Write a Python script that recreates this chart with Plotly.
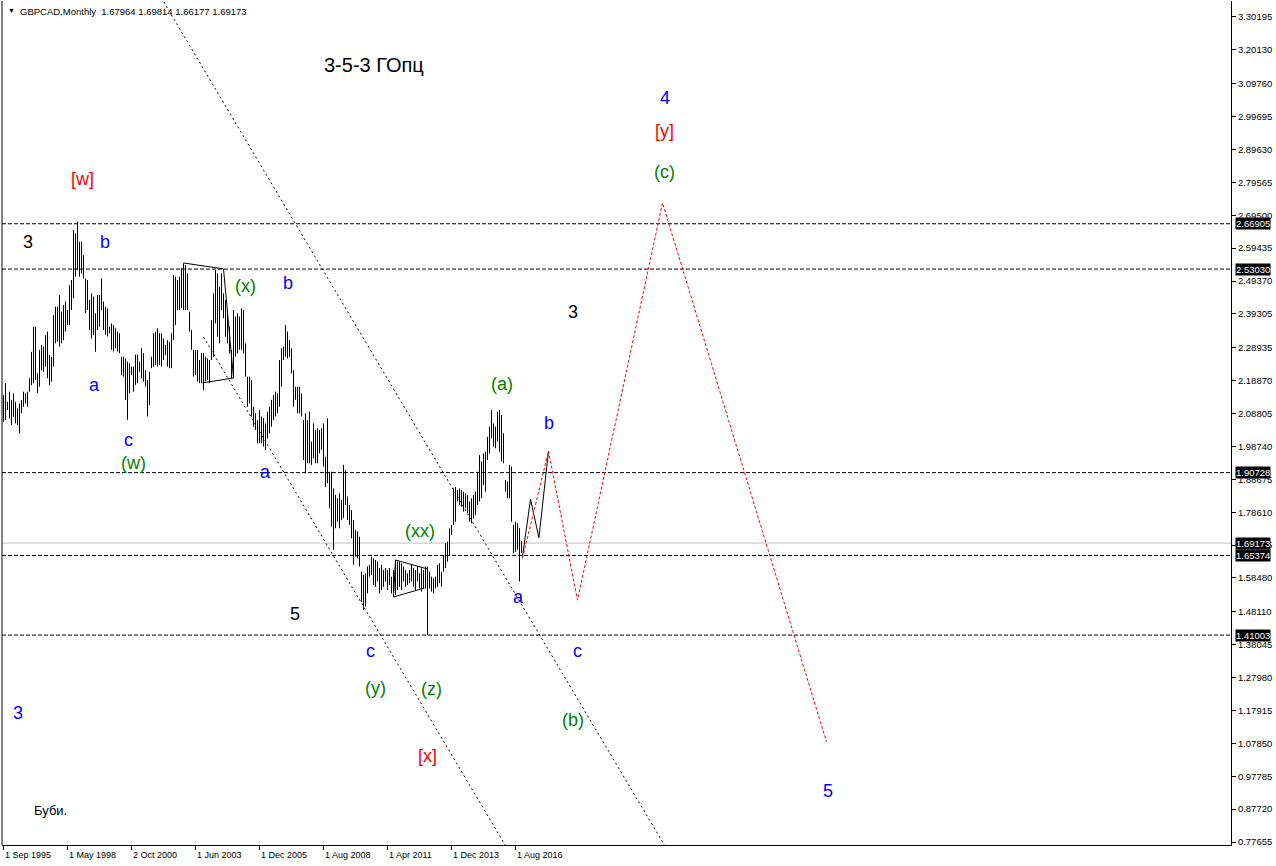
import plotly.graph_objects as go

# ---------------- data ----------------
symbol_header = "GBPCAD,Monthly  1.67964 1.69814 1.66177 1.69173"

bar_high = [
    2.145, 2.181, 2.124, 2.155, 2.129, 2.150, 2.124, 2.104, 2.119, 2.129,
    2.155, 2.150, 2.155, 2.196, 2.277, 2.354, 2.354, 2.211, 2.283, 2.298,
    2.293, 2.328, 2.339, 2.267, 2.262, 2.390, 2.415, 2.415, 2.451, 2.400,
    2.420, 2.431, 2.405, 2.481, 2.497, 2.650, 2.640, 2.675, 2.614, 2.614,
    2.573, 2.502, 2.497, 2.436, 2.456, 2.446, 2.395, 2.451, 2.451,
    2.502, 2.431, 2.415, 2.410, 2.354, 2.364, 2.359, 2.349, 2.339, 2.334,
    2.262, 2.262, 2.257, 2.247, 2.242, 2.232, 2.232, 2.268, 2.268, 2.247,
    2.288, 2.273, 2.221, 2.191, 2.216, 2.262, 2.334, 2.339, 2.349, 2.334,
    2.334, 2.318, 2.298, 2.313, 2.308, 2.334, 2.512, 2.507, 2.497, 2.507,
    2.533, 2.548, 2.543, 2.517, 2.400, 2.344, 2.283, 2.283, 2.283, 2.252,
    2.273, 2.273, 2.262, 2.257, 2.252,
    2.374, 2.456, 2.528, 2.517, 2.476, 2.517, 2.456, 2.436, 2.405, 2.354,
    2.283, 2.405, 2.385, 2.395, 2.385, 2.410, 2.405, 2.303, 2.201, 2.201,
    2.191, 2.109, 2.089, 2.068, 2.099, 2.079, 2.074, 2.058, 2.094, 2.109,
    2.130, 2.145, 2.155, 2.150, 2.252, 2.288, 2.293, 2.359, 2.339, 2.313,
    2.288, 2.221, 2.170, 2.170, 2.170, 2.150, 2.068, 2.089, 2.068, 2.094,
    2.002, 2.058, 2.038, 2.043, 2.038, 2.043, 2.058, 1.956, 2.074, 1.910,
    1.910, 1.859, 1.839, 1.829, 1.844, 1.824, 1.931, 1.915, 1.834, 1.808,
    1.793, 1.762, 1.732, 1.727, 1.711, 1.604, 1.594, 1.599, 1.620, 1.625,
    1.650, 1.645, 1.640, 1.635, 1.615, 1.625, 1.609, 1.615, 1.609, 1.615,
    1.589, 1.609, 1.640, 1.635, 1.635, 1.630, 1.620, 1.609, 1.599, 1.609,
    1.625, 1.615, 1.609, 1.620, 1.599,
    1.615, 1.609, 1.620, 1.620, 1.604, 1.589, 1.584, 1.589, 1.625, 1.630,
    1.604, 1.655, 1.691, 1.696, 1.737, 1.747, 1.859, 1.864, 1.854, 1.859,
    1.854, 1.849, 1.844, 1.839, 1.819, 1.829, 1.839, 1.849, 1.910, 1.961,
    1.941, 1.966, 1.971, 2.017, 2.048, 2.099, 2.058, 2.048, 2.094, 2.099,
    2.084, 2.028, 1.885, 1.880, 1.931, 1.926, 1.747, 1.757, 1.752, 1.737,
    1.69814,
]

bar_low = [
    2.063, 2.068, 2.099, 2.073, 2.053, 2.078, 2.058, 2.053, 2.027, 2.089,
    2.109, 2.119, 2.109, 2.155, 2.175, 2.181, 2.191, 2.150, 2.170, 2.221,
    2.216, 2.232, 2.196, 2.175, 2.186, 2.232, 2.303, 2.308, 2.293, 2.303,
    2.313, 2.339, 2.359, 2.359, 2.405, 2.441, 2.507, 2.527, 2.507, 2.517,
    2.502, 2.395, 2.405, 2.344, 2.318, 2.328, 2.277, 2.344, 2.354,
    2.405, 2.344, 2.329, 2.324, 2.334, 2.283, 2.278, 2.288, 2.278, 2.273,
    2.206, 2.201, 2.130, 2.069, 2.150, 2.206, 2.155, 2.176, 2.181, 2.216,
    2.196, 2.186, 2.171, 2.079, 2.114, 2.227, 2.232, 2.237, 2.232, 2.237,
    2.232, 2.252, 2.267, 2.232, 2.227, 2.227, 2.313, 2.359, 2.405, 2.405,
    2.410, 2.405, 2.405, 2.405, 2.339, 2.283, 2.201, 2.206, 2.186, 2.181,
    2.181, 2.160, 2.186, 2.191, 2.181,
    2.252, 2.262, 2.364, 2.323, 2.303, 2.405, 2.380, 2.323, 2.303, 2.272,
    2.196, 2.196, 2.262, 2.272, 2.283, 2.283, 2.272, 2.201, 2.109, 2.119,
    2.079, 2.048, 2.038, 1.997, 1.997, 1.997, 1.987, 1.977, 2.012, 2.028,
    2.048, 2.068, 2.079, 2.089, 2.109, 2.170, 2.252, 2.262, 2.257, 2.262,
    2.211, 2.109, 2.130, 2.089, 2.089, 2.079, 1.946, 1.905, 1.936, 1.936,
    1.931, 1.951, 1.936, 1.936, 1.966, 1.977, 1.926, 1.864, 1.875, 1.798,
    1.742, 1.671, 1.737, 1.757, 1.737, 1.762, 1.768, 1.808, 1.762, 1.747,
    1.706, 1.625, 1.650, 1.645, 1.620, 1.512, 1.487, 1.497, 1.538, 1.589,
    1.594, 1.563, 1.558, 1.574, 1.538, 1.548, 1.558, 1.574, 1.548, 1.563,
    1.538, 1.543, 1.533, 1.548, 1.558, 1.548, 1.574, 1.558, 1.563, 1.569,
    1.574, 1.558, 1.548, 1.574, 1.553,
    1.543, 1.553, 1.553, 1.410, 1.553, 1.543, 1.538, 1.553, 1.558, 1.569,
    1.558, 1.604, 1.615, 1.635, 1.655, 1.716, 1.747, 1.757, 1.819, 1.808,
    1.803, 1.788, 1.798, 1.783, 1.757, 1.752, 1.767, 1.778, 1.808, 1.819,
    1.829, 1.869, 1.849, 1.946, 1.966, 2.012, 1.987, 1.982, 2.002, 1.971,
    1.941, 1.936, 1.849, 1.829, 1.829, 1.757, 1.660, 1.665, 1.671, 1.574,
    1.66177,
]

# time-axis labels (every 32 bars)
date_tick_bars = [0, 32, 64, 96, 128, 160, 192, 224, 256]
date_tick_text = ["1 Sep 1995", "1 May 1998", "2 Oct 2000", "1 Jun 2003", "1 Dec 2005",
                  "1 Aug 2008", "1 Apr 2011", "1 Dec 2013", "1 Aug 2016"]

# price-axis labels
price_ticks = [3.30195, 3.20130, 3.09760, 2.99695, 2.89630, 2.79565, 2.69500, 2.59435,
               2.49370, 2.39305, 2.28935, 2.18870, 2.08805, 1.98740, 1.88675, 1.78610,
               1.68545, 1.58480, 1.48110, 1.38045, 1.27980, 1.17915, 1.07850, 0.97785,
               0.87720, 0.77655]

# horizontal levels
level_prices = [2.66905, 2.53030, 1.90728, 1.65374, 1.41003]
current_price = 1.69173

# channel lines (bar index, price)
channel_upper_bar = [75, 340]
channel_upper_price = [3.4007, 0.6686]
channel_lower_bar = [100, 270]
channel_lower_price = [2.3225, 0.5698]

# pattern outlines
wedge_bar = [90, 110, 115, 99.5]
wedge_price = [2.549, 2.531, 2.197, 2.182]
triangle_bar = [212, 196, 195, 210.5]
triangle_price = [1.6123, 1.6398, 1.5266, 1.5541]

# projected paths
black_path_bar = [259.5, 263.5, 267.7, 272.5]
black_path_price = [1.650, 1.826, 1.708, 1.973]
red_path_bar = [259.5, 272.5, 287, 329.5, 411.5]
red_path_price = [1.645, 1.973, 1.517, 2.733, 1.083]

# wave labels: text, bar, price, colour key
wave_text = ["3-5-3 ГОпц", "4", "[y]", "(c)", "[w]", "3", "b", "(x)", "b", "3",
             "(a)", "a", "b", "c", "(w)", "a", "(xx)", "a", "5", "c",
             "c", "(y)", "(z)", "3", "(b)", "[x]", "5", "Буби."]
wave_bar = [185, 330.5, 330.5, 330.5, 39.5, 12, 50.5, 121, 142, 284.5,
            249, 45.5, 272.5, 62.5, 65, 131, 208, 257.5, 145.5, 183.5,
            287, 186, 214, 7, 284.5, 212, 412, 23.5]
wave_price = [3.155, 3.054, 2.953, 2.827, 2.806, 2.613, 2.613, 2.479, 2.488, 2.399,
              2.179, 2.176, 2.059, 2.007, 1.937, 1.909, 1.729, 1.527, 1.475, 1.361,
              1.361, 1.248, 1.245, 1.171, 1.150, 1.040, 0.933, 0.873]
wave_color = ["k", "b", "r", "g", "r", "k", "b", "g", "b", "k",
              "g", "b", "b", "b", "g", "b", "g", "b", "k", "b",
              "b", "g", "g", "b", "g", "r", "b", "k"]

# ---------------- figure ----------------
COLORS = {"k": "#000000", "b": "#0000FF", "r": "#FF0000", "g": "#008000"}
FONT = "Liberation Sans, Arial, sans-serif"

fig = go.Figure()

# OHLC bars drawn as high-low segments
seg_x, seg_y = [], []
for i, (h, l) in enumerate(zip(bar_high, bar_low)):
    seg_x += [i, i, None]
    seg_y += [l, h, None]
fig.add_trace(go.Scatter(x=seg_x, y=seg_y, mode="lines",
                         line=dict(color="#000000", width=1), hoverinfo="skip",
                         showlegend=False))

# channel lines
for bx, py in [(channel_upper_bar, channel_upper_price), (channel_lower_bar, channel_lower_price)]:
    fig.add_trace(go.Scatter(x=bx, y=py, mode="lines",
                             line=dict(color="#000000", width=1, dash="2px,3px"),
                             hoverinfo="skip", showlegend=False))

# pattern outlines
for bx, py in [(wedge_bar, wedge_price), (triangle_bar, triangle_price)]:
    fig.add_trace(go.Scatter(x=bx, y=py, mode="lines",
                             line=dict(color="#000000", width=1),
                             hoverinfo="skip", showlegend=False))

# projected paths
fig.add_trace(go.Scatter(x=black_path_bar, y=black_path_price, mode="lines",
                         line=dict(color="#000000", width=1), hoverinfo="skip",
                         showlegend=False))
fig.add_trace(go.Scatter(x=red_path_bar, y=red_path_price, mode="lines",
                         line=dict(color="#FF0000", width=1, dash="3px,2px"),
                         hoverinfo="skip", showlegend=False))

shapes = []
for lv in level_prices:
    shapes.append(dict(type="line", xref="paper", x0=0, x1=1, yref="y", y0=lv, y1=lv,
                       line=dict(color="#000000", width=1, dash="4px,2px"), layer="below"))
shapes.append(dict(type="line", xref="paper", x0=0, x1=1, yref="y", y0=current_price,
                   y1=current_price, line=dict(color="#C0C0C0", width=1), layer="below"))
shapes.append(dict(type="line", xref="paper", x0=0, x1=0, yref="paper", y0=0, y1=1,
                   line=dict(color="#000000", width=1)))

annotations = []
for t, bx, py, c in zip(wave_text, wave_bar, wave_price, wave_color):
    size = 13 if t == "Буби." else 18
    if t.startswith("3-5-3"):
        size = 20
    annotations.append(dict(x=bx, y=py, xref="x", yref="y", text=t, showarrow=False,
                            font=dict(family=FONT, size=size, color=COLORS[c]),
                            xanchor="center", yanchor="middle"))

# highlighted price labels
for lv in level_prices + [current_price]:
    annotations.append(dict(x=1, xref="paper", y=lv, yref="y", text=f"{lv:.5f}",
                            showarrow=False, xanchor="left", yanchor="middle", xshift=4,
                            bgcolor="#000000", borderpad=0,
                            font=dict(family=FONT, size=9.5, color="#FFFFFF")))

# time labels (left aligned like the terminal)
for b, t in zip(date_tick_bars, date_tick_text):
    annotations.append(dict(x=b, xref="x", y=0, yref="paper", text=t, showarrow=False,
                            xanchor="left", yanchor="top", yshift=-3, xshift=-1,
                            font=dict(family=FONT, size=9, color="#000000")))

# header
annotations.append(dict(x=0, xref="paper", y=1, yref="paper", text="▼",
                        showarrow=False, xanchor="left", yanchor="top", xshift=4, yshift=-4,
                        font=dict(family=FONT, size=7, color="#000000")))
annotations.append(dict(x=0, xref="paper", y=1, yref="paper", text=symbol_header,
                        showarrow=False, xanchor="left", yanchor="top", xshift=16, yshift=-3,
                        font=dict(family=FONT, size=9.5, color="#000000")))

fig.update_layout(
    width=1276, height=866,
    margin=dict(l=2, r=45, t=1, b=21),
    paper_bgcolor="#FFFFFF", plot_bgcolor="#FFFFFF",
    showlegend=False,
    shapes=shapes, annotations=annotations,
    xaxis=dict(range=[-0.75, 613.75], showgrid=False, zeroline=False,
               showline=True, linecolor="#000000", linewidth=1,
               tickmode="array", tickvals=date_tick_bars, ticktext=[""] * len(date_tick_bars),
               ticks="outside", ticklen=4, tickcolor="#000000", fixedrange=True),
    yaxis=dict(range=[0.7675, 3.3509], side="right", showgrid=False, zeroline=False,
               showline=True, linecolor="#000000", linewidth=1,
               tickmode="array", tickvals=price_ticks,
               ticktext=[f"{v:.5f}" for v in price_ticks],
               ticks="outside", ticklen=4, tickcolor="#000000",
               tickfont=dict(family=FONT, size=9.5, color="#000000"), fixedrange=True),
)

fig.write_html("out.html", config={"displayModeBar": False},
               post_script="document.body.style.margin='0';")
